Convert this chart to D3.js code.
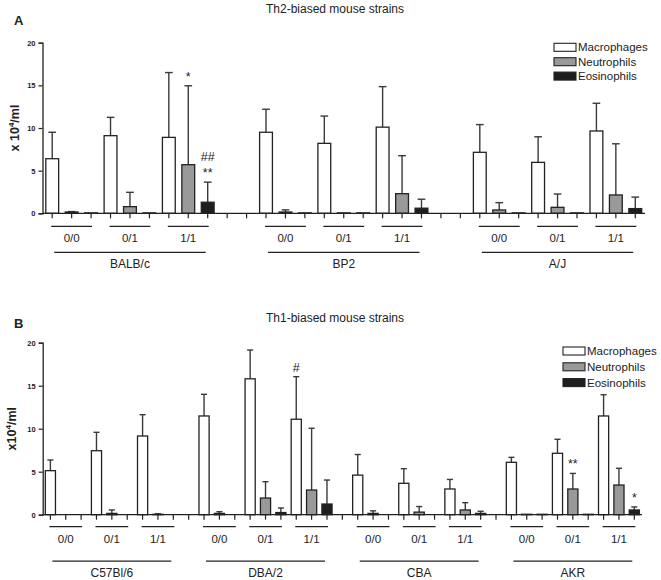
<!DOCTYPE html>
<html>
<head>
<script src="https://d3js.org/d3.v7.min.js"></script>
<style>
  body { margin: 0; background: #fff; }
  text { font-family: Arial, "Liberation Sans", sans-serif; fill: #222; }
</style>
</head>
<body>
<svg class="chart" width="661" height="580"></svg>
<script>

// shared labels
conditions = ["0/0", "0/1", "1/1"]
cellTypes = ["Macrophages", "Neutrophils", "Eosinophils"]
cellFill = ["#ffffff", "#999999", "#1e1e1e"]
yTicks = [0, 5, 10, 15, 20]

// panel A - Th2 strains, values in order strain x condition
strainsA = ["BALB/c", "BP2", "A/J"]
macroA   = [6.4, 9.1, 8.9, 9.5, 8.2, 10.1, 7.15, 5.97, 9.65]
macroSdA = [3.1, 2.15, 7.6, 2.7, 3.2, 4.75, 3.25, 3.0, 3.25]
neutroA   = [0.15, 0.78, 5.7, 0.15, 0.05, 2.3, 0.39, 0.7, 2.15]
neutroSdA = [0.05, 1.68, 9.25, 0.25, 0, 4.45, 0.86, 1.56, 6.0]
eosA   = [0.05, 0.05, 1.3, 0.05, 0.05, 0.6, 0.05, 0.05, 0.55]
eosSdA = [0, 0, 2.35, 0, 0, 1.05, 0, 0, 1.35]
// significance marks: [strain, condition, cell, text lines]
marksA = [[0, 2, 1, ["*"]], [0, 2, 2, ["##", "**"]]]

// panel B - Th1 strains
strainsB = ["C57Bl/6", "DBA/2", "CBA", "AKR"]
macroB   = [5.12, 7.44, 9.15, 11.48, 15.8, 11.1, 4.6, 3.65, 2.99, 6.09, 7.14, 11.48]
macroSdB = [1.24, 2.14, 2.48, 2.52, 3.35, 4.95, 2.4, 1.7, 1.11, 0.58, 1.63, 2.47]
neutroB   = [0, 0.15, 0.05, 0.15, 1.94, 2.87, 0.15, 0.3, 0.55, 0.05, 2.99, 3.45]
neutroSdB = [0, 0.4, 0.05, 0.2, 1.9, 7.18, 0.3, 0.65, 0.85, 0, 1.81, 1.95]
eosB   = [0, 0, 0, 0, 0.25, 1.24, 0, 0, 0.15, 0.05, 0.05, 0.55]
eosSdB = [0, 0, 0, 0, 0.53, 2.79, 0, 0, 0.25, 0, 0, 0.35]
marksB = [[1, 2, 0, ["#"]], [3, 1, 1, ["**"]], [3, 2, 2, ["*"]]]

svg = d3.select('.chart')

function panel(p) {
  g = svg.append('g')
  gap = p.gap
  nSlots = p.strains.length * 9 + (p.strains.length - 1) * gap
  x = d3.scaleBand().domain(d3.range(nSlots)).range([p.left, p.right]).padding(0)
  y = d3.scaleLinear().domain([0, 20]).range([p.bottom, p.top])
  slot = (s, c, k) => s * (9 + gap) + c * 3 + k
  ctr = i => x(i) + x.bandwidth() / 2
  bw = x.bandwidth() * 0.66

  // flatten into bars
  means = [p.macro, p.neutro, p.eos]
  sds = [p.macroSd, p.neutroSd, p.eosSd]
  bars = []
  p.strains.forEach((st, s) => conditions.forEach((cn, c) => cellTypes.forEach((ct, k) => {
    bars.push({ s: s, c: c, k: k, v: means[k][s * 3 + c], sd: sds[k][s * 3 + c] })
  })))

  // error bars (upper half only)
  eb = bars.filter(d => d.sd > 0)
  g.selectAll('line.err').data(eb).join('line')
    .attr('x1', d => ctr(slot(d.s, d.c, d.k)))
    .attr('x2', d => ctr(slot(d.s, d.c, d.k)))
    .attr('y1', d => y(d.v))
    .attr('y2', d => y(d.v + d.sd))
    .attr('stroke', '#3a3a3a').attr('stroke-width', 1.4)
  g.selectAll('line.cap').data(eb).join('line')
    .attr('x1', d => ctr(slot(d.s, d.c, d.k)) - bw * 0.3)
    .attr('x2', d => ctr(slot(d.s, d.c, d.k)) + bw * 0.3)
    .attr('y1', d => y(d.v + d.sd))
    .attr('y2', d => y(d.v + d.sd))
    .attr('stroke', '#3a3a3a').attr('stroke-width', 1.4)

  g.selectAll('rect.bar').data(bars).join('rect')
    .attr('x', d => x(slot(d.s, d.c, d.k)) + (x.bandwidth() - bw) / 2)
    .attr('y', d => y(d.v))
    .attr('width', bw)
    .attr('height', d => y(0) - y(d.v))
    .attr('fill', d => cellFill[d.k])
    .attr('stroke', '#222').attr('stroke-width', 1.3)

  // y axis
  yAxis = g.append('g')
    .attr('transform', `translate(${p.left},0)`)
    .call(d3.axisLeft(y).tickValues(yTicks).tickSize(4).tickPadding(3))
  yAxis.select('.domain').attr('stroke', '#222').attr('stroke-width', 1.3)
  yAxis.selectAll('.tick line').attr('stroke', '#222').attr('stroke-width', 1.2)
  yAxis.selectAll('.tick text').style('font-family', 'Arial, "Liberation Sans", sans-serif')
    .style('font-size', '7.5px').style('font-weight', 'bold').attr('fill', '#222')

  // x axis: line plus a tick under every slot
  xAxis = g.append('g')
    .attr('transform', `translate(0,${p.bottom})`)
    .call(d3.axisBottom(x).tickSize(5).tickFormat(''))
  xAxis.select('.domain').attr('d', `M${p.left},0H${p.right}`).attr('stroke', '#222').attr('stroke-width', 1.3)
  xAxis.selectAll('.tick line').attr('stroke', '#222').attr('stroke-width', 1.2)

  // condition and strain group lines
  p.strains.forEach((st, s) => {
    conditions.forEach((cn, c) => {
      g.append('line')
        .attr('x1', ctr(slot(s, c, 0)) - 1).attr('x2', ctr(slot(s, c, 2)) + 1)
        .attr('y1', p.bottom + p.condY).attr('y2', p.bottom + p.condY)
        .attr('stroke', '#222').attr('stroke-width', 1.2)
      g.append('text')
        .attr('x', ctr(slot(s, c, 1))).attr('y', p.bottom + p.condY + 16)
        .attr('text-anchor', 'middle').style('font-size', '11.5px')
        .text(cn)
    })
    g.append('line')
      .attr('x1', ctr(slot(s, 0, 0)) + 2).attr('x2', ctr(slot(s, 2, 2)) - 2)
      .attr('y1', p.bottom + p.strainY).attr('y2', p.bottom + p.strainY)
      .attr('stroke', '#222').attr('stroke-width', 1.2)
    g.append('text')
      .attr('x', ctr(slot(s, 1, 1))).attr('y', p.bottom + p.strainY + 16)
      .attr('text-anchor', 'middle').style('font-size', '12px')
      .text(st)
  })

  // significance marks above the error bar
  p.marks.forEach(m => {
    i = m[0] * 3 + m[1]
    markY = y(means[m[2]][i] + sds[m[2]][i])
    m[3].slice().reverse().forEach((t, j) => {
      g.append('text')
        .attr('x', ctr(slot(m[0], m[1], m[2]))).attr('y', markY - 5 - j * 16)
        .attr('text-anchor', 'middle').style('font-size', '12.5px')
        .text(t)
    })
  })

  // legend
  cellTypes.forEach((ct, k) => {
    ly = p.legY + k * p.legStep
    g.append('rect')
      .attr('x', p.legX).attr('y', ly - 4).attr('width', 22).attr('height', 8)
      .attr('fill', cellFill[k]).attr('stroke', '#222').attr('stroke-width', 1.1)
    g.append('text')
      .attr('x', p.legX + 24).attr('y', ly + 4)
      .style('font-size', '11.5px')
      .text(ct)
  })

  // titles
  g.append('text').attr('x', 335).attr('y', p.titleY)
    .attr('text-anchor', 'middle').style('font-size', '12px').text(p.title)
  g.append('text').attr('x', 14).attr('y', p.letterY)
    .style('font-size', '13px').style('font-weight', 'bold').text(p.letter)

  yl = g.append('text')
    .attr('transform', `translate(${p.yLabX},${(p.top + p.bottom) / 2}) rotate(-90)`)
    .attr('text-anchor', 'middle').style('font-size', '12.5px').style('font-weight', 'bold')
  yl.append('tspan').text(p.yPre)
  yl.append('tspan').attr('dy', -5).style('font-size', '8px').text('4')
  yl.append('tspan').attr('dy', 5).text('/ml')
}

panel({ strains: strainsA, gap: 2, left: 42.5, right: 645, top: 42.7, bottom: 213.3,
  macro: macroA, macroSd: macroSdA, neutro: neutroA, neutroSd: neutroSdA, eos: eosA, eosSd: eosSdA,
  marks: marksA, condY: 13, strainY: 39, legX: 554, legY: 47.3, legStep: 14.4,
  title: 'Th2-biased mouse strains', titleY: 13, letter: 'A', letterY: 25,
  yLabX: 19, yPre: 'x 10' })

panel({ strains: strainsB, gap: 1, left: 42.7, right: 642, top: 342.7, bottom: 514.7,
  macro: macroB, macroSd: macroSdB, neutro: neutroB, neutroSd: neutroSdB, eos: eosB, eosSd: eosSdB,
  marks: marksB, condY: 12, strainY: 46.5, legX: 563, legY: 351, legStep: 15.8,
  title: 'Th1-biased mouse strains', titleY: 322, letter: 'B', letterY: 328,
  yLabX: 16, yPre: 'x10' })

</script>
</body>
</html>
